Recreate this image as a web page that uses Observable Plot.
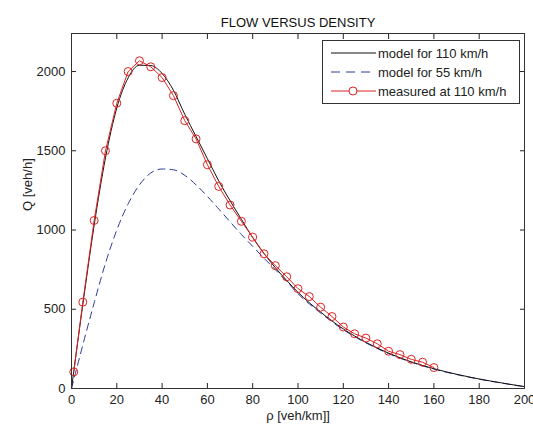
<!DOCTYPE html>
<html><head><meta charset="utf-8">
<script src="https://cdn.jsdelivr.net/npm/d3@7"></script>
<script src="https://cdn.jsdelivr.net/npm/@observablehq/plot@0.6"></script>
<style>
html,body{margin:0;padding:0;background:#fff;}
#wrap{position:relative;width:533px;height:430px;font-family:"Liberation Sans",Arial,sans-serif;}
#legend{position:absolute;left:322px;top:40px;width:196px;height:62px;border:1px solid #333;background:#fff;}
#legend svg{display:block;}
</style></head><body><div id="wrap"></div>
<script>
// ---- data ----
const titleText = "FLOW VERSUS DENSITY";
const xLabel = "ρ [veh/km]]";
const yLabel = "Q [veh/h]";
const xTicks = [0, 20, 40, 60, 80, 100, 120, 140, 160, 180, 200];
const yTicks = [0, 500, 1000, 1500, 2000];

const seriesNames = ["model for 110 km/h", "model for 55 km/h", "measured at 110 km/h"];

const modelDensity = [0, 1, 5, 10, 15, 20, 25, 30, 35, 40, 45, 50, 55, 60, 65, 70, 75, 80, 85, 90, 95, 100, 110, 120, 130, 140, 150, 160, 170, 180, 190, 200];
const model110 = [0, 108, 530, 1030, 1455, 1770, 1960, 2040, 2038, 1988, 1882, 1730, 1590, 1450, 1310, 1185, 1068, 952, 852, 762, 682, 607, 482, 376, 291, 223, 168, 125, 90, 60, 35, 12];
const model55 = [0, 55, 275, 540, 790, 1000, 1165, 1285, 1360, 1385, 1380, 1345, 1285, 1212, 1133, 1052, 972, 897, 822, 750, 675, 598, 476, 371, 288, 220, 166, 123, 88, 59, 34, 11];

const measuredDensity = [1, 5, 10, 15, 20, 25, 30, 35, 40, 45, 50, 55, 60, 65, 70, 75, 80, 85, 90, 95, 100, 105, 110, 115, 120, 125, 130, 135, 140, 145, 150, 155, 160];
const measuredFlow = [105, 545, 1060, 1500, 1800, 2000, 2068, 2030, 1962, 1848, 1690, 1575, 1412, 1275, 1158, 1055, 955, 850, 775, 705, 630, 580, 513, 454, 388, 345, 318, 282, 235, 214, 184, 166, 132];

// ---- build tables ----
const m110 = modelDensity.map((d, i) => ({d, q: model110[i]}));
const m55 = modelDensity.map((d, i) => ({d, q: model55[i]}));
const meas = measuredDensity.map((d, i) => ({d, q: measuredFlow[i]}));

const colBlack = "#111";
const colBlue = "#2b3a9c";
const colRed = "#dd2222";

const chart = Plot.plot({
  width: 533, height: 430,
  marginLeft: 71, marginRight: 9, marginTop: 33, marginBottom: 42,
  style: {fontFamily: "'Liberation Sans', Arial, sans-serif", fontSize: "13px", color: "#222", background: "white", overflow: "visible"},
  x: {domain: [0, 200]},
  y: {domain: [0, 2240]},
  marks: [
    Plot.axisX(xTicks, {anchor: "bottom", tickSize: -5, tickPadding: 11.5, label: null}),
    Plot.axisX(xTicks, {anchor: "top", tickSize: -5, tickFormat: () => "", label: null}),
    Plot.axisY(yTicks, {anchor: "left", tickSize: -5, tickPadding: 11, label: null, tickFormat: d => String(d)}),
    Plot.axisY(yTicks, {anchor: "right", tickSize: -5, tickFormat: () => "", label: null}),
    Plot.line(m55, {x: "d", y: "q", stroke: colBlue, strokeWidth: 1, strokeDasharray: "7,5", curve: "monotone-x"}),
    Plot.line(m110, {x: "d", y: "q", stroke: colBlack, strokeWidth: 1, curve: "monotone-x"}),
    Plot.line(meas, {x: "d", y: "q", stroke: colRed, strokeWidth: 1}),
    Plot.dot(meas, {x: "d", y: "q", r: 4, stroke: colRed, fill: "none", strokeWidth: 1}),
    Plot.frame({stroke: "#333"}),
    Plot.text([titleText], {frameAnchor: "top", dy: -16, fill: "#111"}),
    Plot.text([xLabel], {frameAnchor: "bottom", dy: 31, fill: "#222"}),
    Plot.text([yLabel], {frameAnchor: "left", dx: -44, rotate: -90, fill: "#222"})
  ]
});

const wrap = document.getElementById("wrap");
wrap.appendChild(chart);

// legend overlay
const leg = document.createElement("div");
leg.id = "legend";
wrap.appendChild(leg);
const ls = d3.select(leg).append("svg").attr("width", 196).attr("height", 62)
  .style("font-family", "'Liberation Sans', Arial, sans-serif").style("font-size", "13px");
const rowY = [12, 31, 50];
const styles = [
  {stroke: colBlack, dash: null, marker: false},
  {stroke: colBlue, dash: "9,6", marker: false},
  {stroke: colRed, dash: null, marker: true}
];
seriesNames.forEach((name, i) => {
  const g = ls.append("g").attr("transform", `translate(0,${rowY[i]})`);
  g.append("line").attr("x1", 8).attr("x2", 53).attr("y1", 0).attr("y2", 0)
    .attr("stroke", styles[i].stroke).attr("stroke-dasharray", styles[i].dash);
  if (styles[i].marker) g.append("circle").attr("cx", 30).attr("cy", 0).attr("r", 4)
    .attr("fill", "white").attr("stroke", styles[i].stroke);
  g.append("text").attr("x", 55).attr("y", 0).attr("dy", "0.35em").attr("fill", "#222").text(name);
});
</script>
</body></html>
